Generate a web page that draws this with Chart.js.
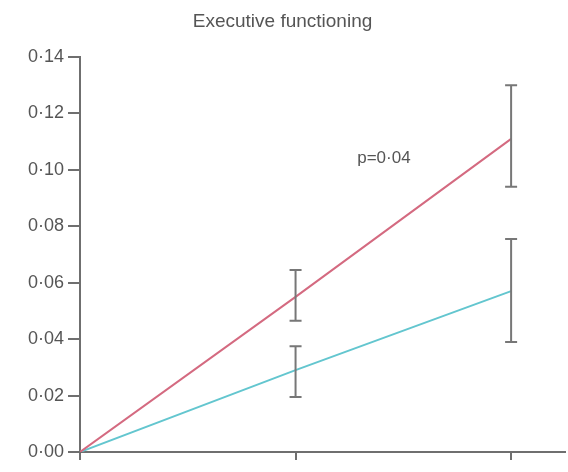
<!DOCTYPE html>
<html>
<head>
<meta charset="utf-8">
<script src="https://cdn.jsdelivr.net/npm/chart.js@4.4.1/dist/chart.umd.min.js"></script>
<style>
  body { margin: 0; background: #fff; }
  #wrap { width: 568px; height: 472px; }
</style>
</head>
<body>
<div id="wrap"><canvas id="grafica" width="568" height="472"></canvas></div>
<script>
// datos
const momentos = [0, 1, 2];
const valoresRojo = [0, 0.055, 0.111];
const erroresRojo = [null, [0.0465, 0.0645], [0.094, 0.130]];
const valoresAzul = [0, 0.029, 0.057];
const erroresAzul = [null, [0.0195, 0.0375], [0.039, 0.0755]];
const ticksY = [0, 0.02, 0.04, 0.06, 0.08, 0.10, 0.12, 0.14];
const etiquetaP = { texto: "p=0·04", x: 1.41, y: 0.104 };

const gris = "#6f6f6f";

// barras de error + texto p
const pluginErrores = {
  id: "errores",
  afterDatasetsDraw(chart) {
    const ctx = chart.ctx;
    const sx = chart.scales.x, sy = chart.scales.y;
    ctx.save();
    ctx.strokeStyle = "#777";
    ctx.lineWidth = 2;
    [erroresRojo, erroresAzul].forEach(function (errs) {
      errs.forEach(function (e, i) {
        if (!e) return;
        const px = sx.getPixelForValue(momentos[i]);
        const y1 = sy.getPixelForValue(e[0]);
        const y2 = sy.getPixelForValue(e[1]);
        ctx.beginPath();
        ctx.moveTo(px, y1); ctx.lineTo(px, y2);
        ctx.moveTo(px - 6, y1); ctx.lineTo(px + 6, y1);
        ctx.moveTo(px - 6, y2); ctx.lineTo(px + 6, y2);
        ctx.stroke();
      });
    });
    ctx.fillStyle = "#555";
    ctx.font = "17px 'Liberation Sans', sans-serif";
    ctx.textAlign = "center";
    ctx.textBaseline = "middle";
    ctx.fillText(etiquetaP.texto, sx.getPixelForValue(etiquetaP.x), sy.getPixelForValue(etiquetaP.y));
    ctx.restore();
  }
};

var ctxL = document.getElementById("grafica").getContext("2d");
var miGrafica = new Chart(ctxL, {
  type: "line",
  data: {
    datasets: [
      {
        label: "rojo",
        data: momentos.map((m, i) => ({ x: m, y: valoresRojo[i] })),
        borderColor: "#d46a80",
        borderWidth: 2,
        pointRadius: 0,
        tension: 0
      },
      {
        label: "azul",
        data: momentos.map((m, i) => ({ x: m, y: valoresAzul[i] })),
        borderColor: "#63c6cf",
        borderWidth: 2,
        pointRadius: 0,
        tension: 0
      }
    ]
  },
  options: {
    responsive: false,
    animation: false,
    layout: { padding: { top: 0, right: 3, bottom: 0, left: 0 } },
    plugins: {
      legend: { display: false },
      tooltip: { enabled: false },
      title: {
        display: true,
        text: "Executive functioning",
        color: "#555",
        font: { size: 19, family: "'Liberation Sans Narrow', 'Liberation Sans', sans-serif", weight: "normal", lineHeight: 1.2 },
        padding: { top: 10.6, bottom: 23.6 }
      }
    },
    scales: {
      x: {
        type: "linear",
        min: 0,
        max: 2.25,
        afterBuildTicks: function (scale) {
          scale.ticks = momentos.map(v => ({ value: v }));
        },
        afterFit: function (scale) { scale.height = 20; },
        ticks: { display: false },
        grid: { drawOnChartArea: false, tickLength: 8, color: gris, lineWidth: 2 },
        border: { color: gris, width: 2 }
      },
      y: {
        min: 0,
        max: 0.14,
        afterBuildTicks: function (scale) {
          scale.ticks = ticksY.map(v => ({ value: v }));
        },
        afterFit: function (scale) { scale.width = 80; },
        ticks: {
          color: "#555",
          padding: 4,
          font: { size: 18, family: "'Liberation Sans', sans-serif" },
          callback: function (v) { return v.toFixed(2).replace(".", "·"); }
        },
        grid: { drawOnChartArea: false, tickLength: 12, color: gris, lineWidth: 2 },
        border: { color: gris, width: 2 }
      }
    }
  },
  plugins: [pluginErrores]
});
</script>
</body>
</html>
